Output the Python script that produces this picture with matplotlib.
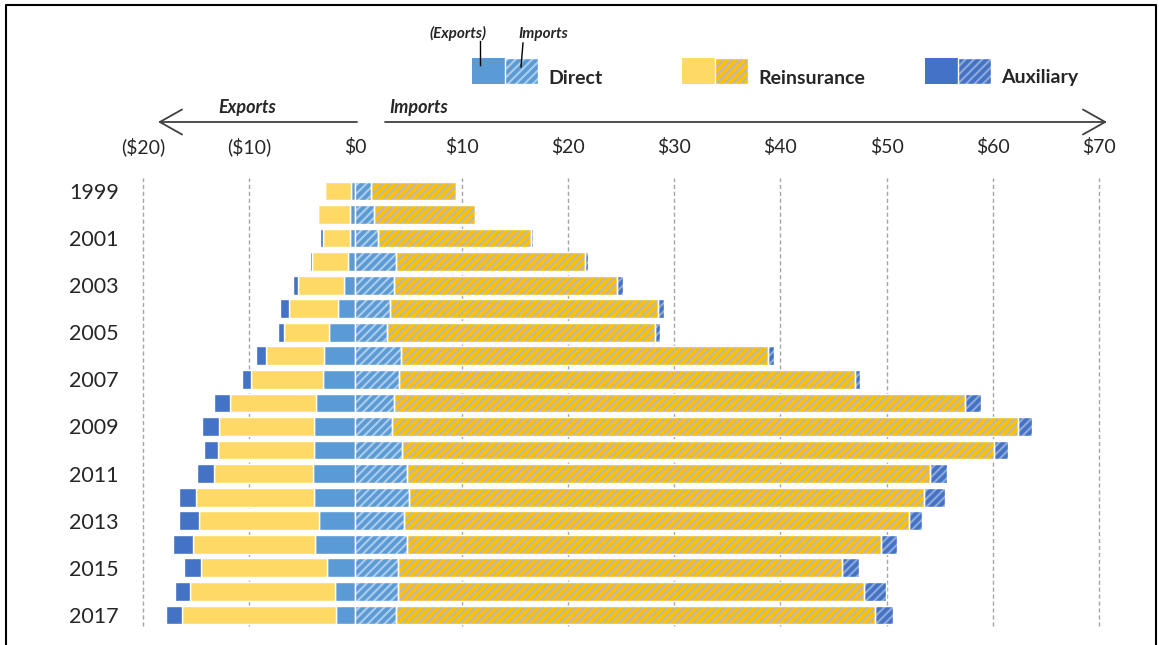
import matplotlib
matplotlib.use('Agg')
import matplotlib.pyplot as plt
from matplotlib.patches import Rectangle, FancyArrowPatch
from matplotlib.lines import Line2D
import numpy as np

plt.rcParams['font.family'] = ['Lato', 'DejaVu Sans']
plt.rcParams['hatch.linewidth'] = 1.5

# Data (billions of dollars)
years = list(range(1999, 2018))
year_labels = [str(y) for y in range(1999, 2018, 2)]

# exports (shown to the left of zero)
exp_direct = [0.4, 0.5, 0.5, 0.7, 1.05, 1.6, 2.5, 3.0, 3.1, 3.7,
              3.9, 3.9, 4.0, 3.9, 3.45, 3.8, 2.65, 1.95, 1.85]
exp_reins = [2.5, 3.0, 2.6, 3.35, 4.4, 4.7, 4.2, 5.4, 6.7, 8.1,
             8.9, 9.0, 9.3, 11.1, 11.3, 11.5, 11.85, 13.6, 14.5]
exp_aux = [0.0, 0.0, 0.25, 0.25, 0.47, 0.8, 0.6, 1.0, 0.9, 1.5,
           1.6, 1.4, 1.6, 1.6, 1.9, 1.9, 1.65, 1.4, 1.5]

# imports (shown to the right of zero)
imp_direct = [1.46, 1.71, 2.09, 3.78, 3.65, 3.22, 2.96, 4.25, 4.12, 3.65,
              3.43, 4.35, 4.84, 5.03, 4.56, 4.84, 3.97, 3.97, 3.78]
imp_reins = [7.97, 9.56, 14.42, 17.81, 21.02, 25.27, 25.24, 34.58, 42.94, 53.78,
             58.99, 55.74, 49.21, 48.54, 47.54, 44.6, 41.8, 43.89, 45.12]
imp_aux = [0.0, 0.0, 0.19, 0.28, 0.56, 0.53, 0.49, 0.57, 0.43, 1.48,
           1.3, 1.36, 1.62, 1.89, 1.26, 1.5, 1.6, 2.11, 1.69]

xticks = [-20, -10, 0, 10, 20, 30, 40, 50, 60, 70]
xtick_labels = ['($20)', '($10)', '$0', '$10', '$20', '$30', '$40', '$50', '$60', '$70']

# colours
c_direct = '#5B9BD5'
c_reins = '#FFD966'
c_aux = '#4472C4'
imp_style = {
    'direct': ('#5B9BD5', '#ADCBEA'),
    'reins': ('#FFC000', '#B8B8B8'),
    'aux': ('#4472C4', '#8FA9DA'),
}

W, H = 1159, 645
fig = plt.figure(figsize=(W / 100, H / 100), dpi=100)


def fx(x):
    return x / W


def fy(y):
    return 1 - y / H


ax = fig.add_axes([fx(143), fy(626), fx(1099) - fx(143), fy(178) - fy(626)])

y = np.array(years)
ed = np.array(exp_direct)
er = np.array(exp_reins)
ea = np.array(exp_aux)
idr = np.array(imp_direct)
ir = np.array(imp_reins)
ia = np.array(imp_aux)
bh = 0.8

# exports
ax.barh(y, -ed, height=bh, color=c_direct, edgecolor='white', linewidth=1, zorder=3)
ax.barh(y, -er, left=-ed, height=bh, color=c_reins, edgecolor='white', linewidth=1, zorder=3)
ax.barh(y, -ea, left=-(ed + er), height=bh, color=c_aux, edgecolor='white', linewidth=1, zorder=3)

# imports (hatched)
lefts = [np.zeros(len(y)), idr, idr + ir]
for vals, left, key in zip([idr, ir, ia], lefts, ['direct', 'reins', 'aux']):
    base, stripe = imp_style[key]
    ax.barh(y, vals, left=left, height=bh, color=base, hatch='////',
            edgecolor=stripe, linewidth=0, zorder=3)
    ax.barh(y, vals, left=left, height=bh, fill=False,
            edgecolor='white', linewidth=1, zorder=4)

ax.set_xlim(-20, 70)
ax.set_ylim(2017.47, 1998.45)

for gx in [-20, -10, 10, 20, 30, 40, 50, 60, 70]:
    ax.axvline(gx, color='#A6A6A6', linestyle=(0, (3, 2)), linewidth=1, zorder=1,
               clip_on=False)

ax.xaxis.tick_top()
ax.set_xticks(xticks)
ax.set_xticklabels(xtick_labels, fontsize=14, color='#262626')
ax.set_yticks(list(range(1999, 2018, 2)))
ax.set_yticklabels(year_labels, fontsize=15.5, color='#262626')
ax.tick_params(axis='x', length=0, pad=16)
ax.tick_params(axis='y', length=0, pad=17.5)
for s in ax.spines.values():
    s.set_visible(False)

# direction arrows above the axis
arrow_kw = dict(arrowstyle='->,head_length=0.8,head_width=0.45', color='#404040',
                lw=1.3, mutation_scale=20, shrinkA=0, shrinkB=0)
fig.add_artist(FancyArrowPatch((fx(357), fy(122)), (fx(158), fy(122)),
                               transform=fig.transFigure, **arrow_kw))
fig.add_artist(FancyArrowPatch((fx(385), fy(122)), (fx(1107), fy(122)),
                               transform=fig.transFigure, **arrow_kw))
fig.text(fx(247), fy(107), 'Exports', fontsize=13, fontweight='bold', fontstyle='italic',
         ha='center', va='center', color='#262626')
fig.text(fx(389), fy(108), 'Imports', fontsize=13, fontweight='bold', fontstyle='italic',
         ha='left', va='center', color='#262626')

# custom legend
legend_items = [
    ('Direct', c_direct, imp_style['direct'], 472),
    ('Reinsurance', c_reins, imp_style['reins'], 682),
    ('Auxiliary', c_aux, imp_style['aux'], 925),
]
for name, exp_col, (ibase, istripe), x0 in legend_items:
    fig.add_artist(Rectangle((fx(x0), fy(84)), fx(33), fy(58) - fy(84),
                             facecolor=exp_col, edgecolor='none'))
    fig.add_artist(Rectangle((fx(x0 + 33), fy(84)), fx(33), fy(58) - fy(84),
                             facecolor=ibase, hatch='////', edgecolor=istripe, linewidth=0))
    fig.add_artist(Rectangle((fx(x0 + 33), fy(84)), fx(33), fy(58) - fy(84),
                             fill=False, edgecolor='white', linewidth=1))
    fig.text(fx(x0 + 76), fy(78), name, fontsize=14, fontweight='bold',
             ha='left', va='center', color='#262626')

fig.text(fx(458), fy(33), '(Exports)', fontsize=11, fontweight='bold', fontstyle='italic',
         ha='center', va='center', color='#262626')
fig.text(fx(543), fy(34), 'Imports', fontsize=11, fontweight='bold', fontstyle='italic',
         ha='center', va='center', color='#262626')
fig.add_artist(Line2D([fx(480), fx(480)], [fy(41), fy(65)], color='black', lw=1))
fig.add_artist(Line2D([fx(523), fx(521)], [fy(43), fy(67)], color='black', lw=1))

# outer frame (left, top, right)
fig.add_artist(Line2D([fx(5.5), fx(5.5), fx(1156), fx(1156)], [0, fy(4.5), fy(4.5), 0],
                      color='black', lw=1.5))

fig.savefig('out.png', dpi=100, facecolor='white')
